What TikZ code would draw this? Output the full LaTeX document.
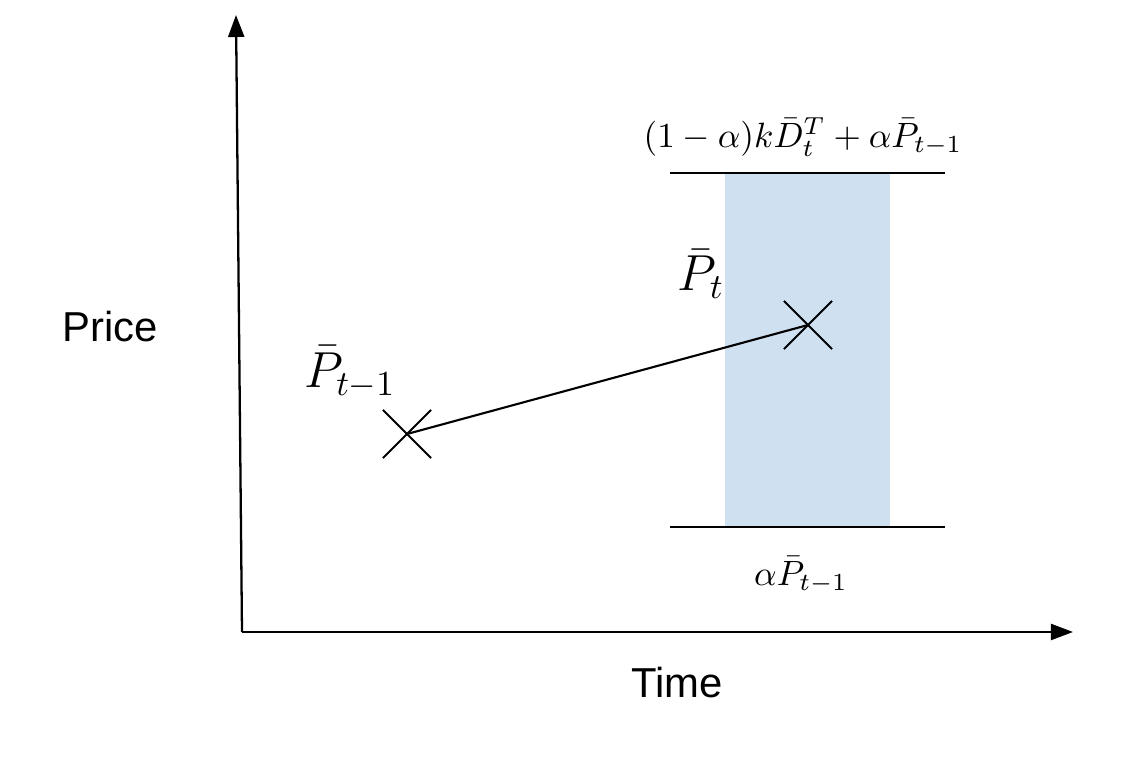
\documentclass[tikz,border=0pt]{standalone}
\usepackage{fontspec}
\newfontfamily\arialfont{Liberation Sans}
\usetikzlibrary{arrows.meta,shapes.misc}
\definecolor{bandblue}{HTML}{CFE0F1}
\tikzset{
  mark cross/.style={cross out, draw, line width=0.6pt, minimum size=0.46cm, inner sep=0pt},
  axis/.style={line width=0.65pt, -{Triangle[length=0.22cm,width=0.16cm]}},
  small math/.style={font=\fontsize{10.4}{12.5}\selectfont},
  big math/.style={font=\fontsize{14.2}{17}\selectfont},
  axis label/.style={font=\arialfont\fontsize{11.9}{14}\selectfont}
}
\begin{document}
\begin{tikzpicture}[x=0.01cm, y=-0.01cm]
  \useasboundingbox (0,0) rectangle (1126,764);

  % Axes
  \coordinate (origin) at (242,632);
  \coordinate (ytip) at (236,15);
  \coordinate (xtip) at (1073,632);
  \draw[axis] (origin) -- (ytip);
  \draw[axis] (origin) -- (xtip);
  \node[axis label] (price) at (110,327) {Price};
  \node[axis label] (time) at (677,683) {Time};

  % Band
  \fill[bandblue] (725,173) rectangle (890,527);
  \coordinate (upl) at (670,173);
  \coordinate (upr) at (945,173);
  \coordinate (lowl) at (670,527);
  \coordinate (lowr) at (945,527);
  \draw[line width=0.6pt] (upl) -- (upr);
  \draw[line width=0.6pt] (lowl) -- (lowr);
  \node[small math] (upper) at (803,137) {$(1-\alpha)k\bar{D}_t^T+\alpha\bar{P}_{t-1}$};
  \node[small math] (lower) at (801,575) {$\alpha\bar{P}_{t-1}$};

  % Prices
  \node[mark cross] (pold) at (407,434) {};
  \node[mark cross] (pnew) at (808,325) {};
  \draw[line width=0.6pt] (pold.center) -- (pnew.center);
  \node[big math] (poldlabel) at (350,372) {$\bar{P}_{t-1}$};
  \node[big math] (pnewlabel) at (701,274) {$\bar{P}_t$};
\end{tikzpicture}
\end{document}
